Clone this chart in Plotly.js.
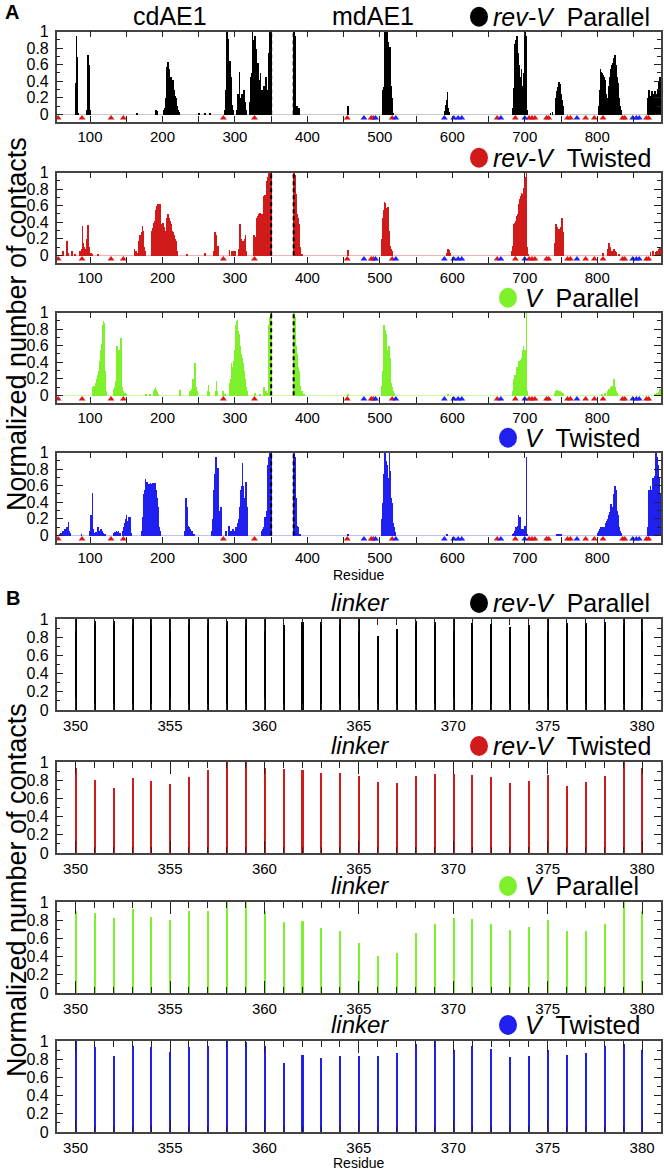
<!DOCTYPE html>
<html><head><meta charset="utf-8">
<script src="https://cdn.plot.ly/plotly-3.0.1.min.js"></script>
<style>html,body{margin:0;padding:0;background:#fff}#chart{width:664px;height:1171px}</style>
</head><body><div id="chart"></div>
<script>
// ---------------- DATA ----------------
// Panel A: residue numbers and normalized contacts (non-zero residues only)
const revVParRes = [80,81,82,83,95,96,97,98,99,100,164,190,191,192,
 202,203,204,205,206,207,208,209,210,211,212,213,214,215,216,217,218,219,220,221,222,
 250,258,265,286,287,288,289,290,291,292,293,294,295,296,297,
 302,304,305,306,307,308,309,310,311,312,313,315,
 320,321,322,323,324,325,326,327,328,329,330,331,332,333,334,335,336,337,338,339,340,341,342,343,344,345,346,347,348,349,350,
 381,382,383,384,385,388,456,
 504,505,506,507,508,509,510,511,512,513,514,515,516,517,518,
 589,590,591,592,593,594,595,
 683,684,685,686,687,688,689,690,691,692,693,694,695,696,697,698,699,700,701,702,703,
 735,738,742,743,744,745,746,747,748,749,750,751,752,753,
 802,803,804,805,806,807,808,809,810,811,812,813,814,815,816,817,818,819,820,821,822,823,824,825,826,827,828,829,830,831,832,833,
 870,871,872,873,874,875,876,877,878,879,880,881,882,883,884,885,886,887];
const revVParVal = [0.38,0.95,0.70,0.02,0.05,0.55,0.72,0.6,0.3,0.05,0.01,0.03,0.05,0.04,
 0.05,0.08,0.2,0.3,0.58,0.64,0.62,0.55,0.45,0.42,0.45,0.38,0.42,0.3,0.28,0.22,0.2,0.12,0.1,0.06,0.03,
 0.01,0.01,0.01,0.05,0.3,0.5,1.0,0.92,0.55,0.5,0.65,0.45,0.38,0.12,0.05,
 0.05,0.25,0.2,0.52,0.15,0.2,0.25,0.12,0.22,0.3,0.15,0.05,
 0.15,0.2,0.45,0.5,1.0,0.9,0.48,0.95,0.6,0.8,0.45,0.62,0.3,0.42,0.25,0.5,0.1,0.3,0.2,0.15,0.35,0.1,0.45,0.2,0.08,0.3,0.2,0.75,1.0,1.0,1.0,
 1.0,0.95,0.9,0.05,0.1,0.08,0.1,
 0.3,0.34,0.45,1.0,0.5,1.0,0.8,0.88,0.62,0.6,0.82,0.35,0.2,0.08,0.02,
 0.04,0.08,0.12,0.18,0.27,0.08,0.03,
 0.08,0.15,0.32,0.85,0.9,0.55,0.95,0.72,0.75,0.6,0.45,0.4,0.55,0.35,0.3,0.5,0.25,1.0,0.95,0.2,0.05,
 0.02,0.03,0.15,0.2,0.28,0.33,0.38,0.4,0.37,0.33,0.25,0.18,0.1,0.05,
 0.1,0.3,0.55,0.52,0.5,0.5,0.48,0.45,0.42,0.3,0.25,0.2,0.15,0.3,0.35,0.45,0.5,0.55,0.6,0.62,0.55,0.68,0.72,0.6,0.52,0.45,0.38,0.3,0.2,0.1,0.05,0.02,
 0.2,0.3,0.1,0.2,0.22,0.28,0.2,0.25,0.2,0.28,0.22,0.2,0.25,0.3,0.2,0.4,0.45,0.3];

const revVTwRes = [62,68,69,75,79,86,88,89,90,92,93,95,96,97,98,99,101,103,111,
 161,163,165,167,168,169,170,171,172,173,174,175,
 185,186,187,188,189,190,191,192,193,194,195,196,197,198,199,200,201,202,203,204,205,206,207,208,209,210,211,212,213,214,215,216,217,218,219,220,
 233,258,270,272,273,274,275,276,277,292,295,297,300,
 305,306,307,308,309,310,311,312,313,314,315,
 325,326,327,328,329,330,331,332,333,334,335,336,337,338,339,340,341,342,343,344,345,346,347,348,349,350,
 381,382,383,384,385,386,387,388,389,390,392,456,
 502,503,504,505,506,507,508,509,510,511,512,513,514,515,516,517,
 592,594,595,597,
 682,683,684,685,686,687,688,689,690,691,692,693,694,695,696,697,698,699,700,701,702,703,704,
 741,742,743,744,745,746,747,748,749,750,751,752,753,
 808,814,816,817,818,820,822,823,824,826,830,
 873,877,880,882,884,886,887];
const revVTwVal = [0.05,0.18,0.03,0.05,0.02,0.05,0.08,0.36,0.15,0.1,0.08,0.2,0.36,0.37,0.1,0.05,0.03,0.02,0.01,
 0.08,0.05,0.03,0.18,0.2,0.25,0.22,0.28,0.36,0.3,0.1,0.05,
 0.3,0.33,0.36,0.4,0.42,0.5,0.55,0.6,0.62,0.62,0.6,0.62,0.45,0.38,0.3,0.4,0.38,0.35,0.3,0.25,0.38,0.45,0.5,0.48,0.45,0.42,0.38,0.35,0.3,0.28,0.25,0.22,0.2,0.18,0.1,0.05,
 0.02,0.03,0.05,0.28,0.25,0.12,0.08,0.12,0.05,0.07,0.06,0.05,0.05,
 0.08,0.12,0.38,0.2,0.15,0.1,0.18,0.12,0.2,0.25,0.05,
 0.1,0.25,0.22,0.15,0.1,0.45,0.48,0.5,0.48,0.52,0.45,0.5,0.38,0.5,0.72,0.55,0.73,0.6,0.7,0.9,0.95,0.8,1.0,1.0,1.0,1.0,
 1.0,0.97,0.78,0.75,0.5,0.4,0.45,0.38,0.1,0.05,0.02,0.07,
 0.1,0.2,0.45,0.55,0.65,0.64,0.5,0.58,0.35,0.59,0.3,0.15,0.12,0.08,0.05,0.03,
 0.03,0.08,0.07,0.03,
 0.05,0.12,0.25,0.38,0.4,0.42,0.45,0.48,0.5,0.55,0.62,0.68,0.72,0.76,0.74,0.72,0.82,0.75,0.95,0.6,1.0,0.1,0.02,
 0.15,0.3,0.38,0.35,0.32,0.28,0.3,0.32,0.35,0.3,0.45,0.28,0.05,
 0.03,0.08,0.15,0.1,0.07,0.05,0.06,0.08,0.05,0.04,0.02,
 0.04,0.05,0.04,0.06,0.08,0.09,0.05];

const vParRes = [104,105,106,107,108,109,110,111,112,113,114,115,116,117,118,119,120,121,122,
 132,133,134,135,136,137,138,139,140,141,142,143,144,145,148,150,
 177,182,187,189,190,191,192,194,224,
 238,240,241,242,243,244,245,246,247,262,263,264,273,274,275,283,286,
 292,293,294,295,296,297,298,299,300,301,302,303,304,305,306,307,308,309,310,311,312,313,314,315,316,317,
 327,334,340,342,344,346,347,348,349,350,
 381,382,383,384,385,386,387,388,389,390,392,395,456,
 502,503,504,505,506,507,508,509,510,511,512,513,514,515,516,517,518,519,594,
 683,684,685,686,687,688,689,690,691,692,693,694,695,696,697,698,699,700,701,702,703,
 741,742,743,744,745,746,747,748,749,750,751,752,
 806,810,814,816,817,818,819,820,821,822,823,824,825,827,
 879,882,884,886,887];
const vParVal = [0.1,0.12,0.05,0.15,0.12,0.2,0.18,0.25,0.3,0.42,0.45,0.55,0.62,0.85,0.9,0.88,0.3,0.1,0.05,
 0.05,0.08,0.1,0.18,0.12,0.6,0.25,0.2,0.55,0.15,0.7,0.3,0.1,0.05,0.03,0.02,
 0.02,0.02,0.05,0.08,0.1,0.07,0.04,0.02,0.07,
 0.05,0.08,0.12,0.2,0.18,0.4,0.25,0.1,0.05,0.05,0.13,0.04,0.05,0.18,0.06,0.05,0.02,
 0.05,0.15,0.2,0.4,0.35,0.28,0.42,0.55,0.52,0.85,0.9,0.92,0.78,0.75,0.68,0.6,0.5,0.45,0.35,0.4,0.3,0.2,0.12,0.1,0.06,0.04,
 0.03,0.02,0.1,0.06,0.03,0.8,0.85,0.95,1.0,1.0,
 1.0,0.95,0.8,0.6,0.42,0.5,0.35,0.3,0.12,0.08,0.05,0.02,0.02,
 0.05,0.12,0.3,0.85,0.83,0.8,0.75,0.5,0.55,0.4,0.6,0.3,0.45,0.15,0.1,0.08,0.05,0.03,0.02,
 0.05,0.1,0.2,0.25,0.22,0.3,0.35,0.28,0.3,0.42,0.38,0.43,0.35,0.45,0.55,0.6,0.5,0.55,0.35,1.0,0.05,
 0.03,0.05,0.06,0.07,0.06,0.05,0.06,0.04,0.05,0.04,0.03,0.03,
 0.02,0.03,0.05,0.08,0.06,0.1,0.08,0.12,0.08,0.06,0.2,0.1,0.05,0.03,
 0.02,0.03,0.04,0.08,0.05];

const vTwRes = [58,60,62,64,65,66,67,68,69,70,71,72,88,
 100,101,102,103,104,105,108,110,111,113,115,116,118,120,
 132,134,136,137,139,141,145,146,147,148,149,150,151,152,153,154,155,156,
 171,172,173,174,175,176,177,178,179,180,181,182,183,184,185,186,187,188,189,190,191,192,193,194,195,196,
 231,232,233,234,235,236,237,238,240,243,
 268,269,270,271,272,273,274,275,276,277,278,279,280,281,
 287,291,292,294,297,299,301,303,304,305,306,307,308,309,310,311,312,313,314,315,316,317,
 337,338,339,340,341,342,343,344,345,346,347,348,349,350,
 381,382,383,384,385,386,387,389,456,
 502,503,504,505,506,507,508,509,510,511,512,513,514,515,516,517,518,519,520,592,
 683,685,686,687,688,689,690,691,692,693,694,695,696,697,698,699,700,701,702,703,
 744,746,748,750,
 801,802,803,804,805,806,807,808,809,810,811,812,813,814,815,816,817,818,819,820,821,822,823,824,825,826,827,828,829,830,831,832,
 870,871,872,873,874,875,876,877,878,879,880,881,882,883,884,885,886,887];
const vTwVal = [0.02,0.03,0.05,0.06,0.08,0.05,0.08,0.1,0.06,0.16,0.05,0.03,0.02,
 0.05,0.25,0.1,0.52,0.08,0.03,0.04,0.05,0.1,0.05,0.08,0.06,0.03,0.02,
 0.03,0.04,0.05,0.04,0.05,0.03,0.05,0.1,0.15,0.12,0.2,0.25,0.15,0.18,0.22,0.1,0.22,0.03,
 0.05,0.2,0.22,0.5,0.55,0.68,0.62,0.65,0.6,0.63,0.6,0.62,0.64,0.6,0.63,0.64,0.55,0.6,0.64,0.6,0.55,0.45,0.35,0.25,0.1,0.05,
 0.05,0.45,0.35,0.2,0.12,0.1,0.06,0.08,0.05,0.02,
 0.05,0.2,0.42,0.55,0.75,0.95,0.8,0.7,0.82,0.65,0.3,0.25,0.35,0.05,
 0.05,0.12,0.05,0.05,0.08,0.05,0.1,0.12,0.15,0.2,0.25,0.35,0.55,0.6,0.88,0.6,0.45,0.3,0.45,0.65,0.35,0.1,
 0.05,0.08,0.05,0.1,0.22,0.1,0.05,0.3,0.85,0.9,0.95,1.0,1.0,1.0,
 1.0,0.95,0.75,0.45,0.12,0.08,0.1,0.02,0.01,
 0.1,0.2,0.4,0.75,0.95,1.0,0.9,0.8,0.85,0.7,0.6,1.0,0.78,0.45,0.4,0.25,0.15,0.1,0.04,0.02,
 0.02,0.03,0.05,0.1,0.08,0.06,0.12,0.25,0.1,0.22,0.08,0.05,0.04,0.08,0.05,0.06,0.12,0.08,0.95,0.02,
 0.02,0.01,0.02,0.01,
 0.03,0.05,0.08,0.06,0.1,0.08,0.1,0.1,0.1,0.08,0.12,0.15,0.18,0.2,0.2,0.25,0.28,0.3,0.38,0.3,0.35,0.5,0.45,0.6,0.55,0.4,0.3,0.25,0.15,0.1,0.05,0.03,
 0.1,0.55,0.3,0.6,0.4,0.55,0.35,0.7,0.5,0.72,0.9,1.0,0.95,0.85,0.6,0.7,0.5,0.3];

// Marker residues (triangles below the baseline)
const redSites = [56,89,129,146,284,327,455,488,491,517,662,687,706,710,714,730,733,759,763,784,796,808,835,838,868,871];
const blueSites = [478,494,522,589,602,608,613,667,700,772,849,854,858];
const linkerEnds = [350, 381];

// Panel B: linker residues 350-380
const linkerRes = [350,351,352,353,354,355,356,357,358,359,360,361,362,363,364,365,366,367,368,369,370,371,372,373,374,375,376,377,378,379,380];
const linkRevVPar = [1.0,0.98,0.98,1.0,1.0,1.0,1.0,1.0,0.98,1.0,1.0,0.93,0.97,0.97,1.0,1.0,0.81,0.89,0.98,0.97,1.0,0.96,0.94,0.91,0.93,1.0,0.96,0.96,0.97,1.0,1.0];
const linkRevVTw = [0.93,0.8,0.71,0.82,0.79,0.76,0.83,0.91,1.0,1.0,0.93,0.92,0.91,0.88,0.88,0.85,0.78,0.77,0.85,0.87,0.87,0.86,0.83,0.77,0.79,0.86,0.74,0.78,0.85,1.0,0.93];
const linkVPar = [0.9,0.88,0.82,0.92,0.84,0.8,0.9,0.9,1.0,1.0,0.9,0.78,0.79,0.71,0.68,0.55,0.41,0.44,0.66,0.76,0.82,0.81,0.76,0.69,0.72,0.8,0.68,0.68,0.76,1.0,0.9];
const linkVTw = [1.0,0.93,0.84,0.95,0.93,0.88,0.93,0.94,1.0,0.99,0.95,0.76,0.85,0.81,0.84,0.83,0.83,0.87,0.97,1.0,0.9,0.95,0.91,0.82,0.83,0.9,0.85,0.87,0.94,0.97,0.9];

const seriesNames = ['rev-V', 'rev-V', 'V', 'V'];
const seriesKinds = ['Parallel', 'Twisted', 'Parallel', 'Twisted'];
const seriesColors = ['#000000', '#d11a1a', '#7ef02c', '#1f1ff0'];
const baseColors = ['#c8c8c8', '#f3b4b4', '#cff7b0', '#c0c0fa'];
const domainLabels = ['cdAE1', 'mdAE1'];
const yTitle = 'Normalized number of contacts';
const xTitle = 'Residue';

// ---------------- LAYOUT ----------------
const W = 664, H = 1171;
const FONT = "'Liberation Sans', Arial, Helvetica, sans-serif";
const fx = p => p / W;
const fy = p => 1 - p / H;
const xDom = [fx(56.7), fx(661)];
const aTops = [31.7, 172.7, 312.7, 452.7];
const bTops = [619, 762, 902, 1041];
const aH = 90, bH = 91;

const aRes = [revVParRes, revVTwRes, vParRes, vTwRes];
const aVal = [revVParVal, revVTwVal, vParVal, vTwVal];
const bVal = [linkRevVPar, linkRevVTw, linkVPar, linkVTw];

const layout = {
  width: W, height: H, margin: {l:0, r:0, t:0, b:0, pad:0},
  paper_bgcolor: '#fff', plot_bgcolor: '#fff', showlegend: false,
  barmode: 'overlay', bargap: 0,
  font: {family: FONT, color: '#000'},
  annotations: [], shapes: []
};
const traces = [];
const xTickFont = {family: FONT, size: 15, color: '#000'};
const yTickFont = {family: FONT, size: 16, color: '#000'};

function axName(n, c) { return c + (n === 1 ? '' : n); }

for (let i = 0; i < 8; i++) {
  const n = i + 1;
  const isA = i < 4;
  const k = i % 4;
  const top = isA ? aTops[k] : bTops[k];
  const h = isA ? aH : bH;
  layout[axName(n, 'xaxis')] = {
    domain: xDom, anchor: axName(n, 'y'),
    range: isA ? [54, 888] : [349, 381],
    tickmode: 'linear', tick0: isA ? 0 : 350, dtick: isA ? 100 : 5,
    ticks: 'inside', ticklen: isA ? 6 : 12, tickwidth: 1.3, tickcolor: '#222',
    minor: {dtick: isA ? 50 : 1, tick0: isA ? 0 : 350, ticks: 'inside', ticklen: 6, tickwidth: 1.2, tickcolor: '#222', showgrid: false},
    showline: true, linecolor: '#444', linewidth: 1.5, mirror: 'allticks',
    showgrid: false, zeroline: false, tickfont: xTickFont, automargin: false, fixedrange: true,
    ticklabelstandoff: 1
  };
  layout[axName(n, 'yaxis')] = {
    domain: [fy(top + h), fy(top)], anchor: axName(n, 'x'),
    range: isA ? [-0.09, 1] : [0, 1],
    tickmode: 'linear', tick0: 0, dtick: 0.2,
    ticks: 'inside', ticklen: 7, tickwidth: 1.3, tickcolor: '#222',
    minor: {dtick: 0.1, tick0: 0, ticks: 'inside', ticklen: 4, tickwidth: 1.2, tickcolor: '#222', showgrid: false},
    showline: true, linecolor: '#444', linewidth: 1.5, mirror: 'allticks',
    showgrid: false, zeroline: isA, zerolinecolor: baseColors[k], zerolinewidth: 1.2,
    tickfont: yTickFont, automargin: false, fixedrange: true, ticklabelstandoff: 3
  };
  const xa = axName(n, 'x'), ya = axName(n, 'y');
  if (isA) {
    traces.push({type: 'bar', x: aRes[k], y: aVal[k], width: 1, xaxis: xa, yaxis: ya,
      marker: {color: seriesColors[k], line: {width: 0}}, hoverinfo: 'skip'});
    traces.push({type: 'scatter', mode: 'markers', x: redSites, y: redSites.map(() => -0.045), xaxis: xa, yaxis: ya,
      marker: {symbol: 'triangle-up', size: 6, color: '#e01414', line: {width: 0}}, hoverinfo: 'skip'});
    traces.push({type: 'scatter', mode: 'markers', x: blueSites, y: blueSites.map(() => -0.045), xaxis: xa, yaxis: ya,
      marker: {symbol: 'triangle-up', size: 6, color: '#2020ff', line: {width: 0}}, hoverinfo: 'skip'});
    linkerEnds.forEach(r => layout.shapes.push({type: 'line', xref: xa, yref: ya, x0: r, x1: r, y0: 0, y1: 1,
      line: {color: '#000', width: 2, dash: '4px,3px'}, layer: 'above'}));
  } else {
    traces.push({type: 'bar', x: linkerRes, y: bVal[k], width: 0.108, xaxis: xa, yaxis: ya,
      marker: {color: seriesColors[k], line: {width: 0}}, hoverinfo: 'skip'});
  }
  // legend-like label: circle + italic name + kind
  const cy = top - (isA ? 15 : 16);
  const isRev = seriesNames[k] === 'rev-V';
  const cx = isRev ? 479 : 508;
  layout.shapes.push({type: 'circle', xref: 'paper', yref: 'paper',
    x0: fx(cx - 9), x1: fx(cx + 9), y0: fy(cy + 10), y1: fy(cy - 10),
    fillcolor: seriesColors[k], line: {width: 0}});
  layout.annotations.push({xref: 'paper', yref: 'paper', x: fx(isRev ? 491 : 523), y: fy(cy),
    xanchor: 'left', yanchor: 'middle', showarrow: false,
    text: '<i>' + seriesNames[k] + '</i>\u00a0\u00a0' + seriesKinds[k],
    font: {family: FONT, size: 25, color: '#000'}});
  if (!isA) {
    layout.annotations.push({xref: 'paper', yref: 'paper', x: fx(360), y: fy(cy - 1),
      xanchor: 'center', yanchor: 'middle', showarrow: false, text: '<i>linker</i>',
      font: {family: FONT, size: 24, color: '#000'}});
  }
}

// Domain labels, panel letters, axis titles
layout.annotations.push({xref:'paper', yref:'paper', x: fx(170), y: fy(16), xanchor:'center', yanchor:'middle', showarrow:false,
  text: domainLabels[0], font:{family:FONT, size:25}});
layout.annotations.push({xref:'paper', yref:'paper', x: fx(373), y: fy(16), xanchor:'center', yanchor:'middle', showarrow:false,
  text: domainLabels[1], font:{family:FONT, size:25}});
layout.annotations.push({xref:'paper', yref:'paper', x: fx(3), y: fy(12), xanchor:'left', yanchor:'middle', showarrow:false,
  text: '<b>A</b>', font:{family:FONT, size:20}});
layout.annotations.push({xref:'paper', yref:'paper', x: fx(4), y: fy(598), xanchor:'left', yanchor:'middle', showarrow:false,
  text: '<b>B</b>', font:{family:FONT, size:20}});
[324, 890].forEach(c => layout.annotations.push({xref:'paper', yref:'paper', x: fx(17), y: fy(c),
  xanchor:'center', yanchor:'middle', showarrow:false, textangle:-90, text: yTitle, font:{family:FONT, size:27}}));
[575, 1163].forEach(c => layout.annotations.push({xref:'paper', yref:'paper', x: fx(359), y: fy(c),
  xanchor:'center', yanchor:'middle', showarrow:false, text: xTitle, font:{family:FONT, size:14}}));

Plotly.newPlot('chart', traces, layout, {displayModeBar: false});
</script>
</body></html>
